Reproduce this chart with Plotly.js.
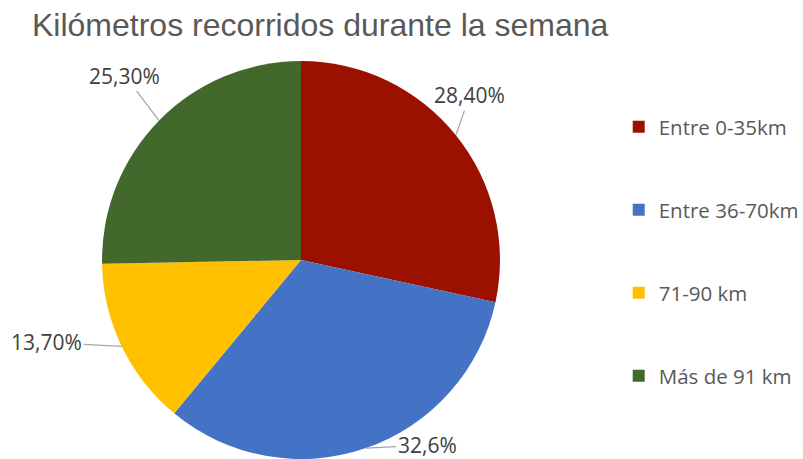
<!DOCTYPE html>
<html><head><meta charset="utf-8">
<script src="https://cdn.plot.ly/plotly-3.0.1.min.js"></script>
<style>html,body{margin:0;padding:0;background:#fff}</style>
</head><body>
<div id="chart" style="width:803px;height:459px"></div>
<script>
const categories = ["Entre 0-35km", "Entre 36-70km", "71-90 km", "Más de 91 km"];
const values = [28.4, 32.6, 13.7, 25.3];
const valueLabels = ["28,40%", "32,6%", "13,70%", "25,30%"];
const colors = ["#9C1000", "#4472C4", "#FFC000", "#43682B"];

const W = 803, H = 459;
const dom = {x: [0.127, 0.6227], y: [0.0, 0.867]};
// label offsets (pixels) from slice rim point
const offsets = [[14, -40], [61, -3], [-75, -4], [-34, -45]];

const total = values.reduce((a, b) => a + b, 0);
const cx = (dom.x[0] + dom.x[1]) / 2 * W;
const cy = H - (dom.y[0] + dom.y[1]) / 2 * H;
const R = Math.min((dom.x[1] - dom.x[0]) * W, (dom.y[1] - dom.y[0]) * H) / 2;
let cum = 0;
const annotations = values.map((v, i) => {
  const mid = (cum + v / 2) / total * 2 * Math.PI;
  cum += v;
  const px = cx + R * Math.sin(mid), py = cy - R * Math.cos(mid);
  return {
    x: px / W, y: 1 - py / H, xref: 'paper', yref: 'paper',
    text: valueLabels[i], showarrow: true, arrowhead: 0, arrowwidth: 1.3,
    arrowcolor: '#a6a6a6', ax: offsets[i][0], ay: offsets[i][1], standoff: 0,
    font: {family: 'Open Sans', size: 21, color: '#404040'}
  };
});

const pad = '<br>&nbsp;<br>&nbsp;';
const trace = {
  type: 'pie', values: values,
  labels: categories.map((c, i) => i < categories.length - 1 ? c + pad : c),
  marker: {colors: colors, line: {color: '#ffffff', width: 0}},
  sort: false, direction: 'clockwise', rotation: 0,
  textinfo: 'none', hoverinfo: 'label+percent',
  domain: dom
};

const layout = {
  width: W, height: H,
  margin: {l: 0, r: 0, t: 0, b: 0, autoexpand: false},
  paper_bgcolor: '#ffffff',
  title: {text: 'Kilómetros recorridos durante la semana', x: 32 / W, xanchor: 'left', xref: 'paper',
          y: 1 - 25 / H, yanchor: 'middle', yref: 'container',
          font: {family: 'Liberation Sans', size: 32, color: '#595959'}},
  showlegend: true,
  legend: {x: 0.7705, xanchor: 'left', y: 1 - 107 / H, yanchor: 'top', valign: 'top',
           font: {family: 'Open Sans', size: 20.5, color: '#595959'}, itemclick: false},
  annotations: annotations
};
Plotly.newPlot('chart', [trace], layout, {displayModeBar: false, staticPlot: true});
</script>
</body></html>
